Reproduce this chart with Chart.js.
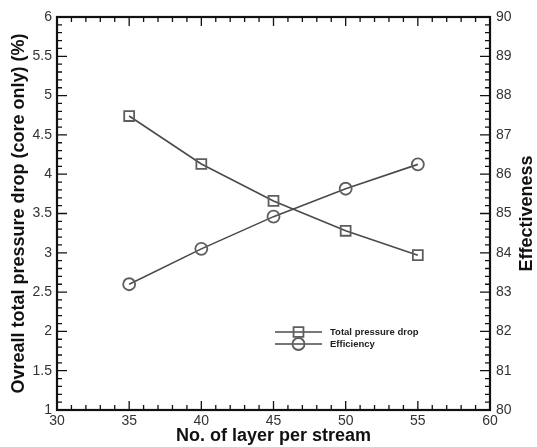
<!DOCTYPE html>
<html>
<head>
<meta charset="utf-8">
<script src="https://cdn.jsdelivr.net/npm/chart.js@4"></script>
<style>
  html, body { margin: 0; padding: 0; background: #fff; }
</style>
</head>
<body>
<canvas id="layerChart" width="537" height="447"></canvas>
<script>
const layers = [35, 40, 45, 50, 55];
const pressureDrop = [4.74, 4.13, 3.66, 3.28, 2.97];
const efficiency = [83.2, 84.1, 84.92, 85.63, 86.25];
const seriesNames = ['Total pressure drop', 'Efficiency'];

const lineColor = '#4a4a4a';
const markColor = '#5e5e5e';

// ticks pointing inward + frame + legend + right title
const framePlugin = {
    id: 'frame',
    afterDraw(chart) {
        const ctx = chart.ctx;
        const a = chart.chartArea;
        const x = chart.scales.x, y = chart.scales.y, y2 = chart.scales.y2;
        ctx.save();
        ctx.strokeStyle = '#111';
        ctx.lineWidth = 1.3;
        ctx.beginPath();
        for (let v = 30; v <= 60; v++) {
            const px = x.getPixelForValue(v);
            const len = v % 5 === 0 ? 9 : 5;
            ctx.moveTo(px, a.bottom); ctx.lineTo(px, a.bottom - len);
            ctx.moveTo(px, a.top); ctx.lineTo(px, a.top + len);
        }
        for (let i = 10; i <= 60; i++) {
            const py = y.getPixelForValue(i / 10);
            const len = i % 5 === 0 ? 10 : 5;
            ctx.moveTo(a.left, py); ctx.lineTo(a.left + len, py);
        }
        for (let k = 0; k <= 50; k++) {
            const py = y2.getPixelForValue(80 + k * 0.2);
            const len = k % 5 === 0 ? 10 : 5;
            ctx.moveTo(a.right, py); ctx.lineTo(a.right - len, py);
        }
        ctx.stroke();

        ctx.lineWidth = 2.2;
        ctx.strokeRect(a.left, a.top, a.right - a.left, a.bottom - a.top);

        // right axis title, reading bottom to top
        ctx.fillStyle = '#111';
        ctx.font = 'bold 18px "Liberation Sans", Arial, sans-serif';
        ctx.textAlign = 'center';
        ctx.textBaseline = 'middle';
        ctx.translate(527, (a.top + a.bottom) / 2);
        ctx.rotate(-Math.PI / 2);
        ctx.fillText('Effectiveness', 0, 0);
        ctx.restore();

        // legend
        ctx.save();
        const lx = 275, lw = 47, rows = [332, 344];
        chart.data.datasets.forEach((ds, i) => {
            const ly = rows[i];
            ctx.strokeStyle = lineColor;
            ctx.lineWidth = 1.5;
            ctx.beginPath();
            ctx.moveTo(lx, ly); ctx.lineTo(lx + lw, ly);
            ctx.stroke();
            ctx.strokeStyle = markColor;
            ctx.fillStyle = 'rgba(0,0,0,0)';
            ctx.lineWidth = ds.pointBorderWidth;
            Chart.helpers.drawPoint(ctx, {
                pointStyle: ds.pointStyle,
                radius: ds.pointRadius,
                borderWidth: ds.pointBorderWidth
            }, lx + lw / 2, ly);
            ctx.fillStyle = '#222';
            ctx.font = 'bold 9.5px "Liberation Sans", Arial, sans-serif';
            ctx.textAlign = 'left';
            ctx.textBaseline = 'middle';
            ctx.fillText(seriesNames[i], lx + lw + 8, ly);
        });
        ctx.restore();
    }
};

const tickFont = { family: '"Liberation Sans", Arial, sans-serif', size: 14 };
const titleFont = { family: '"Liberation Sans", Arial, sans-serif', size: 18, weight: 'bold' };
const plainNum = v => String(Number(v.toFixed(1)));

new Chart(document.getElementById('layerChart'), {
    type: 'line',
    data: {
        datasets: [{
            label: seriesNames[0],
            data: layers.map((v, i) => ({ x: v, y: pressureDrop[i] })),
            yAxisID: 'y',
            borderColor: lineColor,
            borderWidth: 1.6,
            pointStyle: 'rect',
            pointRadius: 7,
            pointBorderWidth: 1.8,
            pointBorderColor: markColor,
            pointBackgroundColor: 'rgba(0,0,0,0)',
            fill: false,
            tension: 0
        }, {
            label: seriesNames[1],
            data: layers.map((v, i) => ({ x: v, y: efficiency[i] })),
            yAxisID: 'y2',
            borderColor: lineColor,
            borderWidth: 1.6,
            pointStyle: 'circle',
            pointRadius: 6,
            pointBorderWidth: 1.8,
            pointBorderColor: markColor,
            pointBackgroundColor: 'rgba(0,0,0,0)',
            fill: false,
            tension: 0
        }]
    },
    options: {
        responsive: false,
        animation: false,
        layout: { padding: { top: 17, left: 0, right: 0, bottom: 0 } },
        plugins: {
            legend: { display: false },
            tooltip: { enabled: false }
        },
        scales: {
            x: {
                type: 'linear',
                min: 30, max: 60,
                grid: { display: false, drawTicks: false },
                border: { display: false },
                ticks: { stepSize: 5, color: '#333', font: tickFont, padding: 3, maxRotation: 0, callback: plainNum },
                title: { display: true, text: 'No. of layer per stream', color: '#111', font: titleFont, padding: 0 },
                afterFit: s => { s.height = 37; }
            },
            y: {
                position: 'left',
                min: 1, max: 6,
                grid: { display: false, drawTicks: false },
                border: { display: false },
                ticks: { stepSize: 0.5, color: '#333', font: tickFont, padding: 5, callback: plainNum },
                title: { display: true, text: 'Ovreall total pressure drop (core only) (%)', color: '#111', font: titleFont, padding: { top: 8, bottom: 0 } },
                afterFit: s => { s.width = 57; }
            },
            y2: {
                position: 'right',
                min: 80, max: 90,
                grid: { display: false, drawTicks: false },
                border: { display: false },
                ticks: { stepSize: 1, color: '#333', font: tickFont, padding: 6, callback: plainNum },
                afterFit: s => { s.width = 47; }
            }
        }
    },
    plugins: [framePlugin]
});
</script>
</body>
</html>
